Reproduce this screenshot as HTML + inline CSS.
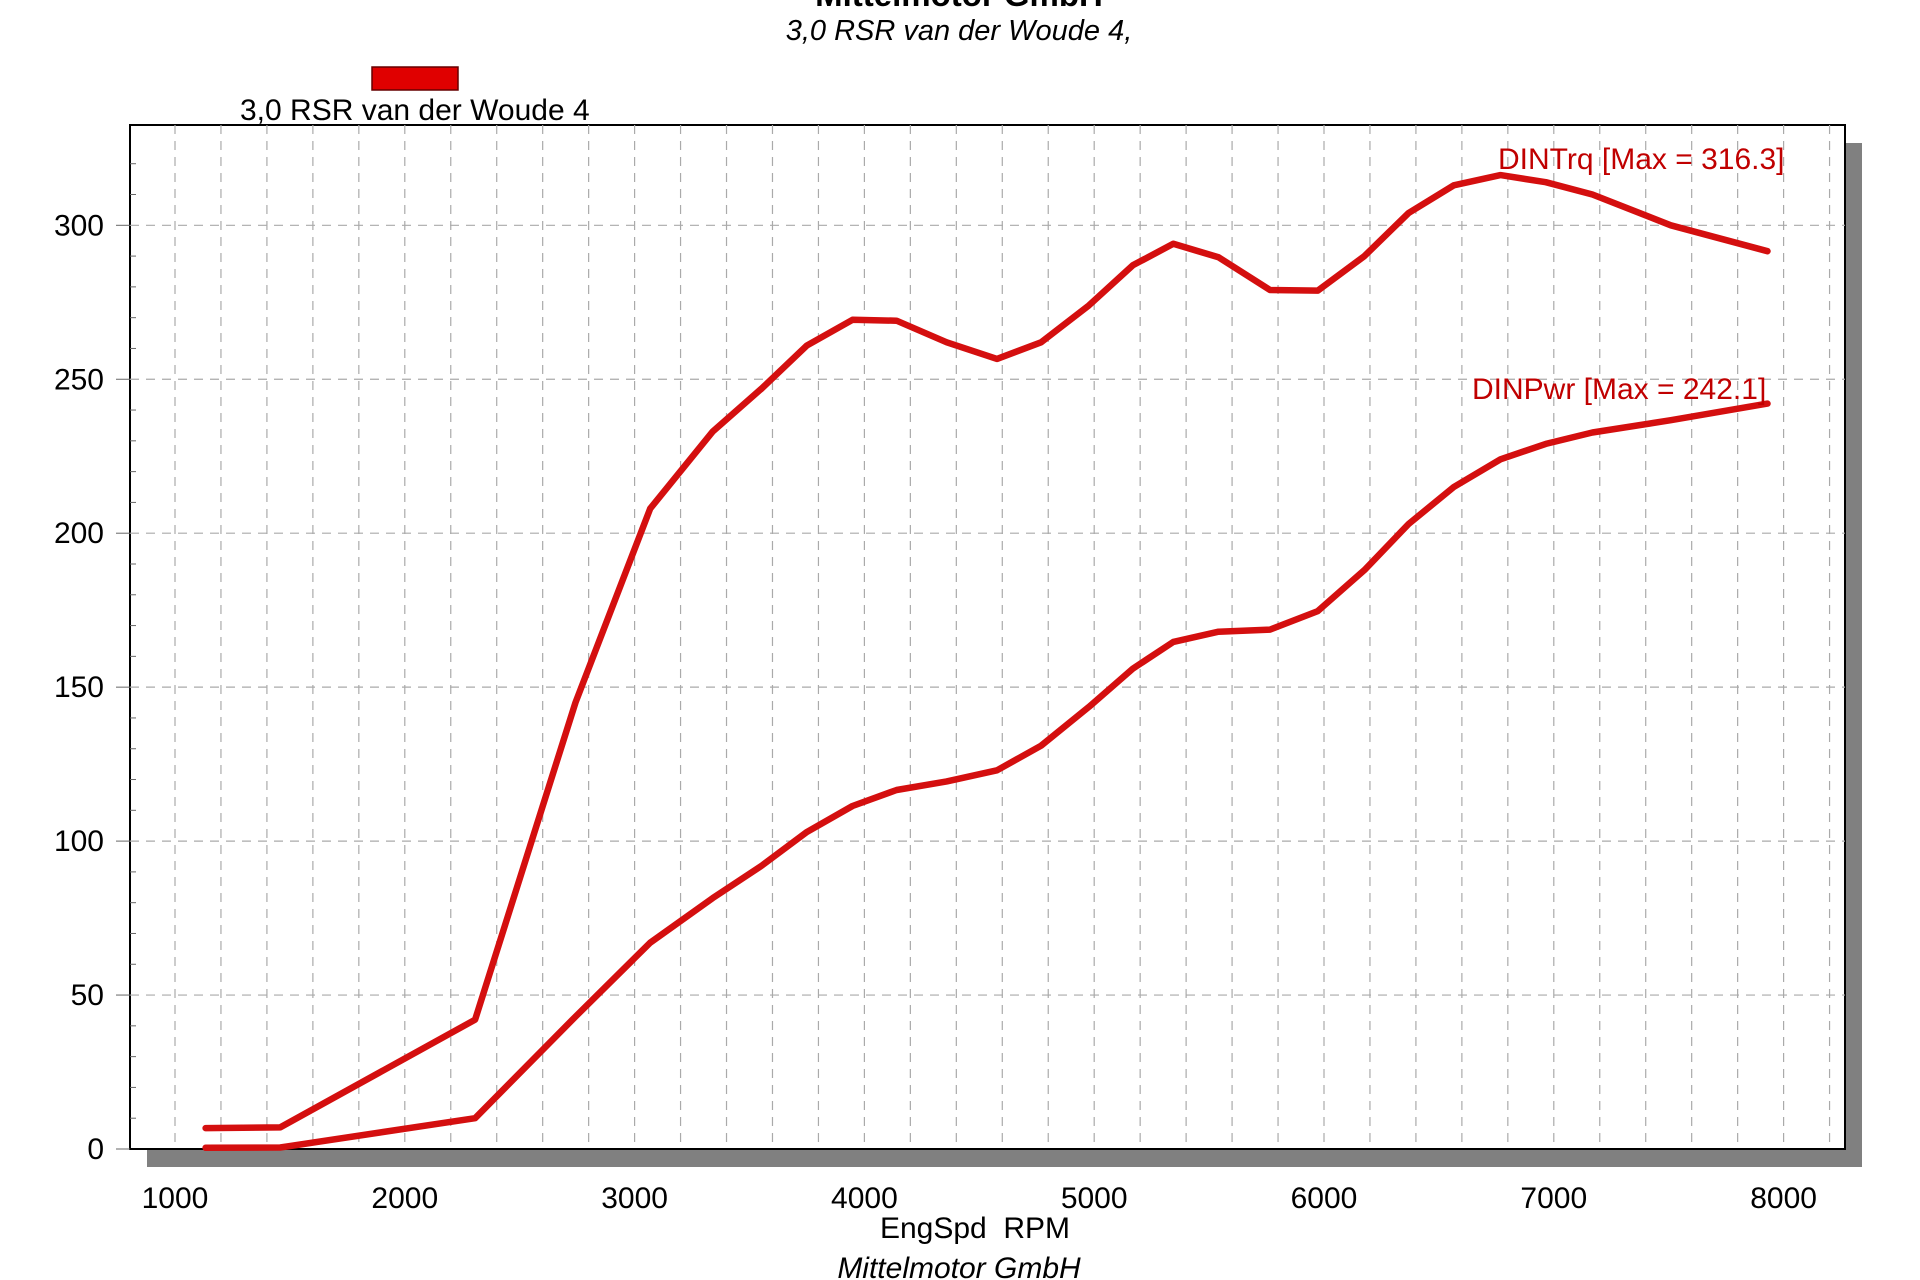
<!DOCTYPE html>
<html><head><meta charset="utf-8"><style>
html,body{margin:0;padding:0;background:#fff;}
svg{display:block;font-family:"Liberation Sans",sans-serif;}
</style></head><body>
<svg id="chart" width="1920" height="1280" viewBox="0 0 1920 1280">
<text x="959" y="6" font-size="33" font-weight="bold" text-anchor="middle">Mittelmotor GmbH</text>
<text x="959" y="40" font-size="29" font-style="italic" text-anchor="middle">3,0 RSR van der Woude 4,</text>
<rect x="372" y="67" width="86" height="23" fill="#e00000" stroke="#600" stroke-width="1.5"/>
<text x="240" y="120" font-size="30">3,0 RSR van der Woude 4</text>
<rect x="147" y="143" width="1715" height="1024" fill="#808080"/>
<rect x="130" y="125" width="1715" height="1024" fill="#fff" stroke="#000" stroke-width="2"/>
<g id="grid"></g>
<g id="series"></g>
<g id="ticks"></g>
<text x="975" y="1238" font-size="30" text-anchor="middle" xml:space="preserve">EngSpd  RPM</text>
<text x="959" y="1278" font-size="30" font-style="italic" text-anchor="middle">Mittelmotor GmbH</text>
<text x="1498" y="169" font-size="30" fill="#c00000">DINTrq [Max = 316.3]</text>
<text x="1472" y="399" font-size="30" fill="#c00000">DINPwr [Max = 242.1]</text>
</svg>
<script>
const rpm = [1133,1458,2306,2743,3068,3340,3553,3750,3948,4140,4358,4577,4769,4977,5168,5344,5541,5765,5973,6176,6368,6565,6768,6965,7168,7509,7930];
const torque = [6.8,7,42,145,208,233,247,261,269.3,269,262,256.6,262,274,287,294,289.6,279,278.8,290,304,313,316.3,314,310,300,291.6];
const power = [0.4,0.5,10,43,67,81.5,92,103,111.4,116.6,119.4,123,131,143.6,156,164.7,168,168.7,174.7,188,203,215,224,229,232.7,236.7,242.1];
const xTicks = [1000,2000,3000,4000,5000,6000,7000,8000];
const yTicks = [0,50,100,150,200,250,300];
const NS='http://www.w3.org/2000/svg';
const L=130,R=1845,T=125,B=1149;
function xs(v){return 175+(v-1000)*0.2298;}
function ys(v){return 1149-v*3.079;}
function mk(tag,attrs,parent){const e=document.createElementNS(NS,tag);for(const k in attrs)e.setAttribute(k,attrs[k]);parent.appendChild(e);return e;}
const grid=document.getElementById('grid'),ticks=document.getElementById('ticks'),series=document.getElementById('series');
for(let v=1000;v<=8200;v+=200){
  const g=mk('line',{x1:xs(v),x2:xs(v),y1:T,y2:B,stroke:'#aaa','stroke-width':1.2,'stroke-dasharray':'9,7'},grid);
  
  
}
for(const v of yTicks){
  if(v===0)continue;
  const g=mk('line',{x1:L,x2:R,y1:ys(v),y2:ys(v),stroke:'#aaa','stroke-width':1.2,'stroke-dasharray':'9,7'},grid);
  
  
}
for(let v=0;v<=320;v+=10){
  const t=mk('line',{x1:L-(v%50===0?14:0),x2:L+(v%50===0?0:6),y1:ys(v),y2:ys(v),stroke:'#666','stroke-width':1},ticks);
  
  
}
for(const v of yTicks){
  const t=mk('text',{x:104,y:ys(v)+10,'font-size':30,'text-anchor':'end'},ticks);
  t.textContent=v;
  
  
}
for(const v of xTicks){
  const t=mk('text',{x:xs(v),y:1208,'font-size':30,'text-anchor':'middle'},ticks);
  t.textContent=v;
  
  
}
function line(vals,name){
  const pts=rpm.map((r,i)=>xs(r).toFixed(1)+','+ys(vals[i]).toFixed(1)).join(' ');
  const p=mk('polyline',{points:pts,fill:'none',stroke:'#d40f0f','stroke-width':6.5,'stroke-linejoin':'round','stroke-linecap':'round'},series);
  
  
}
line(torque,'torque-line');
line(power,'power-line');
</script>
</body></html>
